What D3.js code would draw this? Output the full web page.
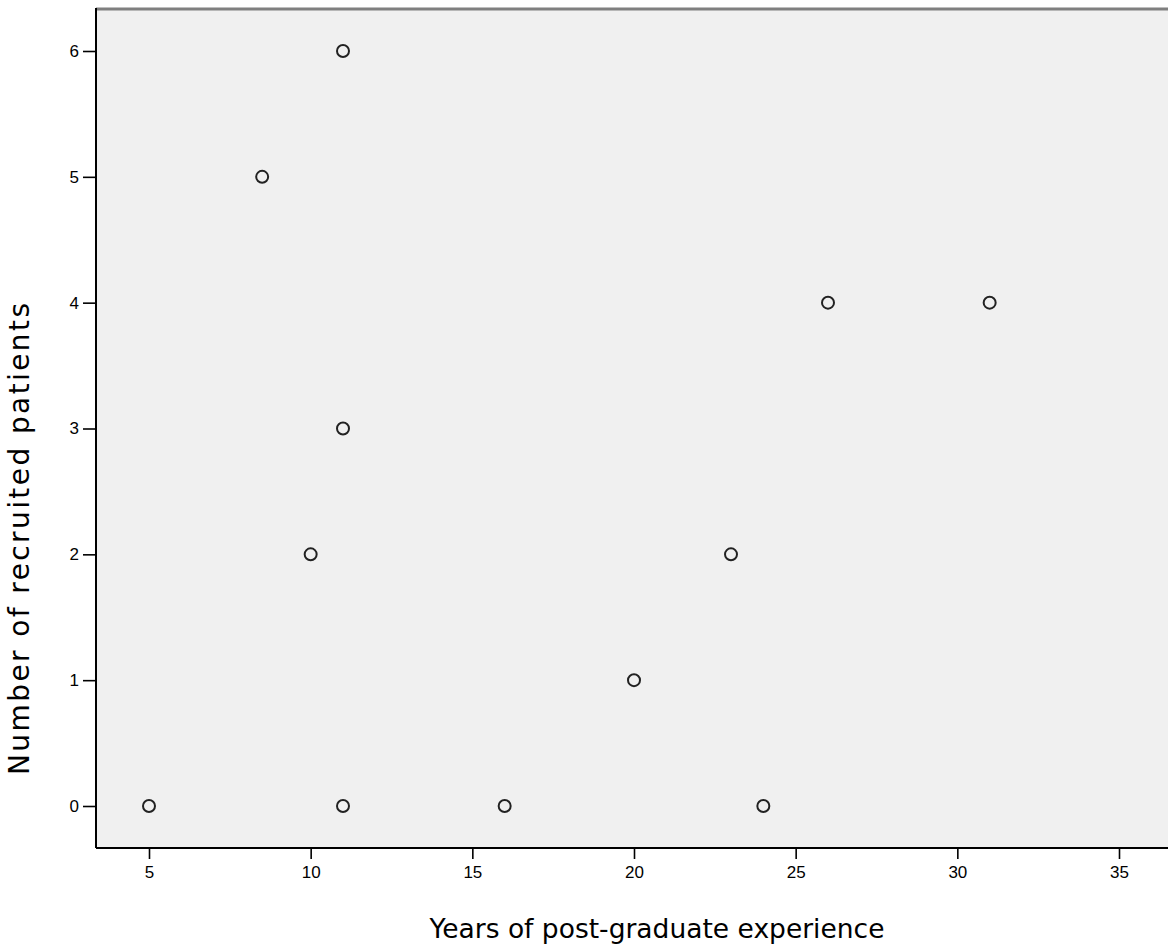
<!DOCTYPE html>
<html><head><meta charset="utf-8">
<script src="https://cdn.jsdelivr.net/npm/d3@7"></script>
<style>body{margin:0;background:#fff;overflow:hidden}</style>
</head><body>
<svg id="c" width="1168" height="947"></svg>
<script>
const xVals = [5, 8.5, 10, 11, 11, 11, 16, 20, 23, 24, 26, 31];
const yVals = [0, 5, 2, 6, 3, 0, 0, 1, 2, 0, 4, 4];
const xTicks = [5, 10, 15, 20, 25, 30, 35];
const yTicks = [0, 1, 2, 3, 4, 5, 6];
const xTitle = "Years of post-graduate experience";
const yTitle = "Number of recruited patients";

const svg = d3.select("#c");
const L = 96, T = 9, R = 1220, B = 848;
const x = d3.scaleLinear().domain([5, 35]).range([149, 1119]);
const y = d3.scaleLinear().domain([0, 6]).range([806, 51]);

svg.append("rect").attr("x", L).attr("y", T).attr("width", R - L).attr("height", B - T).attr("fill", "#f0f0f0");
svg.append("line").attr("x1", L).attr("x2", R).attr("y1", T).attr("y2", T).attr("stroke", "#7f7f7f").attr("stroke-width", 3);

const gx = svg.append("g").attr("transform", `translate(0,${B})`)
  .call(d3.axisBottom(x).tickValues(xTicks).tickFormat(d3.format("d")).tickSize(11).tickSizeOuter(0).tickPadding(7));
const gy = svg.append("g").attr("transform", `translate(${L},0)`)
  .call(d3.axisLeft(y).tickValues(yTicks).tickFormat(d3.format("d")).tickSize(13).tickSizeOuter(0).tickPadding(4));
[gx, gy].forEach(g => {
  g.select(".domain").remove();
  g.selectAll("line").attr("stroke", "#000").attr("stroke-width", 1.6);
  g.selectAll("text").attr("font-family", "Liberation Sans, Arial, sans-serif").attr("font-size", 17).attr("fill", "#000");
});
svg.append("line").attr("x1", L).attr("x2", L).attr("y1", T - 1).attr("y2", B).attr("stroke", "#000").attr("stroke-width", 2);
svg.append("line").attr("x1", L).attr("x2", R).attr("y1", B).attr("y2", B).attr("stroke", "#000").attr("stroke-width", 2);

svg.append("g").selectAll("circle").data(xVals.map((v, i) => [v, yVals[i]])).join("circle")
  .attr("cx", d => x(d[0])).attr("cy", d => y(d[1])).attr("r", 6)
  .attr("fill", "none").attr("stroke", "#222").attr("stroke-width", 2);

svg.append("text").attr("x", 657).attr("y", 938).attr("text-anchor", "middle")
  .attr("font-family", "DejaVu Sans, Verdana, sans-serif").attr("font-size", 26.5).attr("fill", "#000").text(xTitle);
svg.append("text").attr("transform", "translate(29,539) rotate(-90)").attr("text-anchor", "middle")
  .attr("font-family", "DejaVu Sans, Verdana, sans-serif").attr("font-size", 28)
  .attr("textLength", 472).attr("lengthAdjust", "spacing").attr("fill", "#000").text(yTitle);
</script>
</body></html>
